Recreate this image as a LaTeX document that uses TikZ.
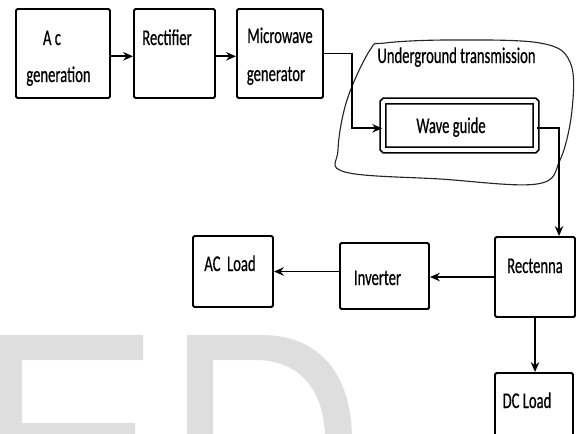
\documentclass[tikz,border=0pt]{standalone}
\usepackage{fontspec}
\setmainfont{Carlito}[FakeStretch=0.65, FakeBold=0.6]
\usepackage{tikz}
\usetikzlibrary{arrows.meta}
\newcommand{\pxu}{0.025cm}
\tikzset{
  block/.style={draw, line width=1.4pt, rounded corners=1pt, inner sep=0pt},
  lbl/.style={anchor=base, inner sep=0pt, font=\fontsize{16}{18}\selectfont},
  arr/.style={line width=1.4pt, -{Stealth[length=7pt,width=6pt]}},
  wmark/.style={fill=black!13},
}
\begin{document}
\begin{tikzpicture}[x=0.025cm, y=-0.025cm]
            \useasboundingbox (0,0) rectangle (576,433);
            \clip (0,0) rectangle (576,433);

            \fill[wmark] (-5,335) -- (143,335) -- (143,360) -- (22,360) -- (22,423) -- (135,423) -- (135,440) -- (-5,440) -- cycle;
            \fill[wmark] (187,335) -- (262,335) .. controls (320,335) and (352,375) .. (352,440) -- (325,440) .. controls (325,390) and (300,360) .. (255,360) -- (213,360) -- (213,440) -- (187,440) -- cycle;

            \node[block, minimum width=94*\pxu, minimum height=89*\pxu] (acgen) at (63,53.5) {};
            \node[block, minimum width=81*\pxu, minimum height=89*\pxu] (rect) at (174.5,53.5) {};
            \node[block, minimum width=86*\pxu, minimum height=89*\pxu] (mwgen) at (280,53.5) {};
            \node[block, double, line width=1.2pt, double distance=2.8pt, minimum width=153*\pxu, minimum height=49*\pxu] (wguide) at (459.5,125.5) {};
            \node[block, minimum width=80*\pxu, minimum height=80*\pxu] (rectenna) at (535,277) {};
            \node[block, minimum width=89*\pxu, minimum height=66*\pxu] (inverter) at (384.5,276) {};
            \node[block, minimum width=80*\pxu, minimum height=71*\pxu] (acload) at (233,271.5) {};
            \node[block, minimum width=78*\pxu, minimum height=67*\pxu] (dcload) at (534,406.5) {};

            \node[lbl] (acgenA) at (52,45) {A c};
            \node[lbl] (acgenB) at (58.5,82) {generation};
            \node[lbl] (rectT) at (167,45) {Rectifier};
            \node[lbl] (mwgenA) at (280,43) {Microwave};
            \node[lbl] (mwgenB) at (276,81) {generator};
            \node[lbl] (ugtrans) at (456.5,63) {Underground transmission};
            \node[lbl] (wguideT) at (451,133) {Wave guide};
            \node[lbl] (acloadT) at (230,271) {AC~ Load};
            \node[lbl] (inverterT) at (377.5,285) {Inverter};
            \node[lbl] (rectennaT) at (535,273) {Rectenna};
            \node[lbl] (dcloadT) at (527,408) {DC Load};

            \draw[line width=0.8pt, black!85] plot[smooth cycle, tension=0.6] coordinates {(370,50) (347,100) (338,150) (345,172) (440,179) (537,184) (560,160) (572,110) (570,62) (540,43) (450,40) (385,43)};

            \draw[arr] ([yshift=-2pt]acgen.east) -- ([yshift=-2pt]rect.west);
            \draw[arr] ([yshift=-2pt]rect.east) -- ([yshift=-2pt]mwgen.west);
            \draw[arr] (mwgen.east) -- ++(28,0) |- ([yshift=-2pt]wguide.west);
            \draw[arr] ([yshift=-2pt]wguide.east) -| ([xshift=0.6cm]rectenna.north);
            \draw[arr] (rectenna.west) -- (inverter.east |- rectenna.west);
            \draw[arr] (inverter.west |- acload.east) -- (acload.east);
            \draw[arr] (rectenna.south) -- (rectenna.south |- dcload.north);
        \end{tikzpicture}
\end{document}
